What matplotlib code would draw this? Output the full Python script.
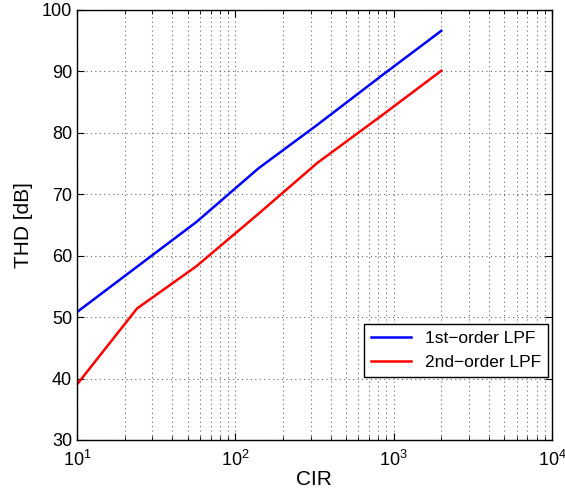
import matplotlib
matplotlib.use("Agg")
import matplotlib.pyplot as plt
from matplotlib.ticker import LogLocator, NullFormatter

plt.rcParams['font.family'] = ['Liberation Sans', 'DejaVu Sans']
plt.rcParams['mathtext.default'] = 'regular'

# data
cir = [10, 24, 57, 140, 330, 850, 2000]
thd_1st = [50.8, 58.2, 65.5, 74.2, 81.3, 89.4, 96.6]
thd_2nd = [39.0, 51.4, 58.3, 66.8, 75.1, 82.9, 90.1]
labels = ['1st\u2212order LPF', '2nd\u2212order LPF']

fig = plt.figure(figsize=(5.65, 4.96), dpi=100)
ax = fig.add_axes([0.136, 0.113, 0.841, 0.867])

ax.semilogx(cir, thd_1st, color='#0000ff', lw=1.8, label=labels[0])
ax.semilogx(cir, thd_2nd, color='#ff0000', lw=1.8, label=labels[1])

ax.set_xlim(10, 1e4)
ax.set_ylim(30, 100)
ax.set_yticks(range(30, 101, 10))
ax.xaxis.set_minor_locator(LogLocator(base=10, subs=range(2, 10)))
ax.xaxis.set_minor_formatter(NullFormatter())

# matlab-like dotted grid
ax.grid(True, which='major', ls=(0, (1, 3)), color='#666666', lw=0.8)
ax.grid(True, which='minor', axis='x', ls=(0, (1, 3)), color='#666666', lw=0.8)
ax.tick_params(which='both', direction='in', top=True, right=True, labelsize=13)
ax.tick_params(which='major', length=5)
ax.tick_params(which='minor', length=3)
ax.tick_params(axis='x', pad=7)
for s in ax.spines.values():
    s.set_linewidth(1.0)

ax.set_xlabel('CIR', fontsize=15, labelpad=0)
ax.set_ylabel('THD [dB]', fontsize=15, labelpad=6)

leg = ax.legend(loc='lower right', bbox_to_anchor=(0.992, 0.147), borderaxespad=0,
                fancybox=False, edgecolor='black', fontsize=12.5, handlelength=2.3,
                framealpha=1)
leg.get_frame().set_linewidth(1.0)

fig.savefig('out.png', dpi=100)
